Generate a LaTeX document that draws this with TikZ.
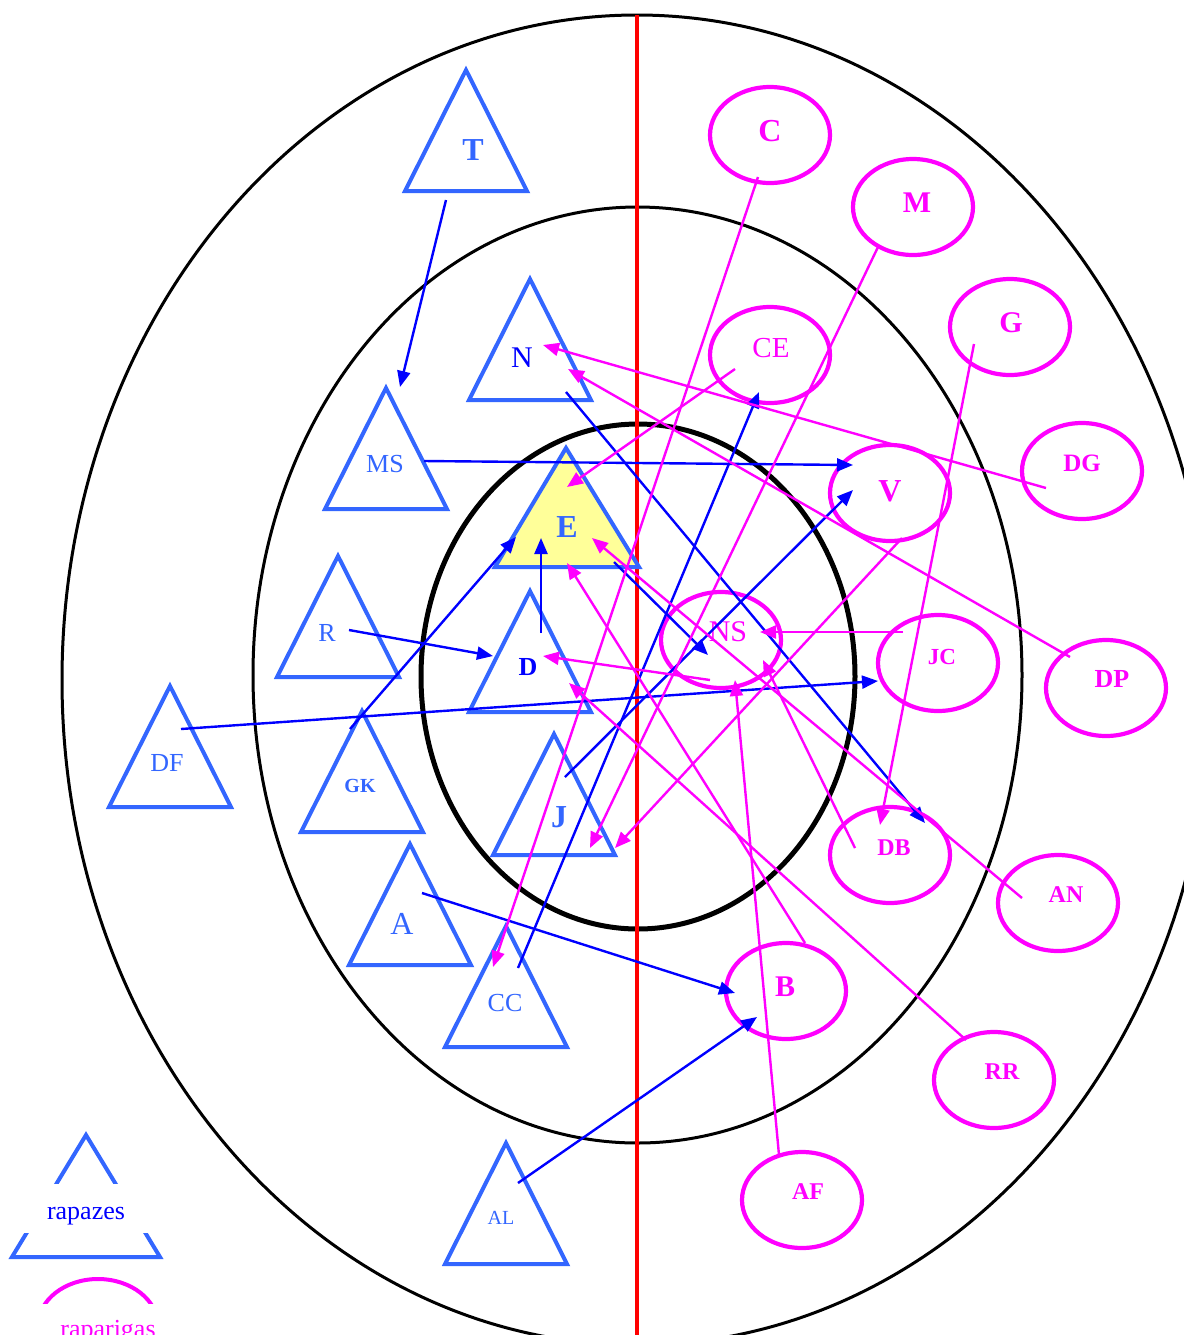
\documentclass[tikz,border=0pt]{standalone}
\usepackage{fontspec}
\setmainfont{Liberation Serif}
\usetikzlibrary{arrows.meta}
\definecolor{tri}{HTML}{3366FF}
\definecolor{bl}{HTML}{0000FF}
\definecolor{mg}{HTML}{FF00FF}
\definecolor{yel}{HTML}{FFFF99}
\definecolor{rd}{HTML}{FF0000}
\tikzset{
  trist/.style={draw=tri,line width=2pt,line join=miter},
  ring/.style={draw=black,line width=1.5pt},
  barrow/.style={draw=bl,line width=1.2pt,-{Triangle[length=8pt,width=6.5pt]}},
  marrow/.style={draw=mg,line width=1.2pt,-{Triangle[length=8pt,width=6.5pt]}},
  lab/.style={inner sep=0pt,font=\fontsize{#1}{#1}\selectfont},
  tl/.style={text=tri},
  ml/.style={text=mg},
}
\newcommand\mytri[2]{\draw[trist] (#1,#2) -- ++(-61,121) -- ++(122,0) -- cycle;}
\newcommand\myell[2]{\draw[draw=mg,line width=2.1pt] (#1,#2) ellipse [x radius=60,y radius=48];}
\begin{document}
\begin{tikzpicture}[x=0.5pt,y=-0.5pt]
\useasboundingbox (0,0) rectangle (1184,1335);
% rings
\draw[ring] (637,680) ellipse [x radius=575,y radius=665];
\draw[ring] (637.5,675) ellipse [x radius=384.5,y radius=468];
\draw[draw=black,line width=2.5pt] (638,676.5) ellipse [x radius=217,y radius=252.5];
\draw[draw=rd,line width=2pt] (637,15) -- (637,1340);
% triangles
\filldraw[trist,fill=yel] (566,448) -- (495,567) -- (639,567) -- cycle;
\mytri{466}{70}
\mytri{386}{388}
\mytri{530}{279}
\mytri{338}{556}
\mytri{530}{591}
\mytri{170}{686}
\mytri{362}{711}
\mytri{554}{734}
\mytri{410}{844}
\mytri{506}{926}
\mytri{506}{1143}
% girls
\myell{770}{135}
\myell{913}{207}
\myell{1010}{327}
\myell{770}{355}
\myell{1082}{471}
\myell{890}{493}
\myell{721}{640}
\myell{938}{663}
\myell{1106}{688}
\myell{890}{855}
\myell{1058}{903}
\myell{786}{991}
\myell{994}{1080}
\myell{802}{1200}
% labels
\node[lab=16,tl,font=\bfseries\fontsize{16}{16}\selectfont] (T) at (473,150) {T};
\node[lab=13,tl] (MS) at (385,464) {MS};
\node[lab=15,text=bl] (N) at (522,358) {N};
\node[lab=16,tl,font=\bfseries\fontsize{16}{16}\selectfont] (E) at (567,527) {E};
\node[lab=13,tl] (R) at (327,633) {R};
\node[lab=13,text=bl,font=\bfseries\fontsize{13}{13}\selectfont] (D) at (528,667) {D};
\node[lab=10,tl,font=\bfseries\fontsize{10}{10}\selectfont] (GK) at (360,786) {GK};
\node[lab=13,tl] (DF) at (167,763) {DF};
\node[lab=16,tl,font=\bfseries\fontsize{16}{16}\selectfont] (J) at (559,817) {J};
\node[lab=16,tl] (A) at (402,924) {A};
\node[lab=13,tl] (CC) at (505,1003) {CC};
\node[lab=10,tl] (AL) at (501,1218) {AL};
\node[lab=16,ml,font=\bfseries\fontsize{16}{16}\selectfont] (C) at (770,131) {C};
\node[lab=15,ml,font=\bfseries\fontsize{15}{15}\selectfont] (M) at (917,203) {M};
\node[lab=15,ml,font=\bfseries\fontsize{15}{15}\selectfont] (G) at (1011,323) {G};
\node[lab=14.5,ml] (CE) at (771,348) {CE};
\node[lab=12.5,ml,font=\bfseries\fontsize{12.5}{12.5}\selectfont] (DG) at (1082,463) {DG};
\node[lab=16,ml,font=\bfseries\fontsize{16}{16}\selectfont] (V) at (890,491) {V};
\node[lab=15,ml] (NS) at (728,632) {NS};
\node[lab=11.5,ml,font=\bfseries\fontsize{11.5}{11.5}\selectfont] (JC) at (942,657) {JC};
\node[lab=13,ml,font=\bfseries\fontsize{13}{13}\selectfont] (DP) at (1112,679) {DP};
\node[lab=12,ml,font=\bfseries\fontsize{12}{12}\selectfont] (DB) at (894,848) {DB};
\node[lab=12,ml,font=\bfseries\fontsize{12}{12}\selectfont] (AN) at (1066,895) {AN};
\node[lab=15,ml,font=\bfseries\fontsize{15}{15}\selectfont] (B) at (785,987) {B};
\node[lab=12,ml,font=\bfseries\fontsize{12}{12}\selectfont] (RR) at (1002,1072) {RR};
\node[lab=12,ml,font=\bfseries\fontsize{12}{12}\selectfont] (AF) at (808,1192) {AF};
% connector end points
\coordinate (Ts) at (446,200); \coordinate (MSe) at (400,387);
\coordinate (MSs) at (424,461); \coordinate (Ve1) at (853,465);
\coordinate (Ns) at (566,392); \coordinate (DBe1) at (925,823);
\coordinate (Rs) at (349,630); \coordinate (De1) at (493,656);
\coordinate (Ds) at (541,633); \coordinate (Ee1) at (541,538);
\coordinate (GKs) at (350,729); \coordinate (Ee2) at (516,537);
\coordinate (DFs) at (181,729); \coordinate (JCe) at (878,681);
\coordinate (Js) at (565,777); \coordinate (Ve2) at (853,490);
\coordinate (CCs) at (518,968); \coordinate (CEe) at (759,392);
\coordinate (Es) at (614,562); \coordinate (NSe1) at (708,655);
\coordinate (As) at (422,893); \coordinate (Be1) at (735,993);
\coordinate (ALs) at (518,1183); \coordinate (Be2) at (757,1017);
\coordinate (Cs) at (758,177); \coordinate (CCe) at (493,967);
\coordinate (Ms) at (878,247); \coordinate (Je1) at (590,848);
\coordinate (Gs) at (974,344); \coordinate (DBe2) at (880,825);
\coordinate (CEs) at (735,369); \coordinate (Ee3) at (567,487);
\coordinate (DGs) at (1046,488); \coordinate (Ne1) at (543,345);
\coordinate (DPs) at (1070,657); \coordinate (Ne2) at (568,369);
\coordinate (Vs) at (902,538); \coordinate (Je2) at (615,848);
\coordinate (JCs) at (903,632); \coordinate (NSe2) at (760,632);
\coordinate (NSs) at (710,680); \coordinate (De2) at (543,656);
\coordinate (DBs) at (855,848); \coordinate (NSe3) at (763,660);
\coordinate (ANs) at (1022,898); \coordinate (Ee4) at (592,538);
\coordinate (Bs) at (805,943); \coordinate (Ee5) at (567,563);
\coordinate (RRs) at (966,1040); \coordinate (De3) at (569,683);
\coordinate (AFs) at (779,1155); \coordinate (NSe4) at (735,680);
% blue connectors
\draw[barrow] (Ts) -- (MSe);
\draw[barrow] (MSs) -- (Ve1);
\draw[barrow] (Ns) -- (DBe1);
\draw[barrow] (Rs) -- (De1);
\draw[barrow] (Ds) -- (Ee1);
\draw[barrow] (GKs) -- (Ee2);
\draw[barrow] (DFs) -- (JCe);
\draw[barrow] (Js) -- (Ve2);
\draw[barrow] (CCs) -- (CEe);
\draw[barrow] (Es) -- (NSe1);
\draw[barrow] (As) -- (Be1);
\draw[barrow] (ALs) -- (Be2);
% magenta connectors
\draw[marrow] (Cs) -- (CCe);
\draw[marrow] (Ms) -- (Je1);
\draw[marrow] (Gs) -- (DBe2);
\draw[marrow] (CEs) -- (Ee3);
\draw[marrow] (DGs) -- (Ne1);
\draw[marrow] (DPs) -- (Ne2);
\draw[marrow] (Vs) -- (Je2);
\draw[marrow] (JCs) -- (NSe2);
\draw[marrow] (NSs) -- (De2);
\draw[marrow] (DBs) -- (NSe3);
\draw[marrow] (ANs) -- (Ee4);
\draw[marrow] (Bs) -- (Ee5);
\draw[marrow] (RRs) -- (De3);
\draw[marrow] (AFs) -- (NSe4);
% legend
\draw[trist] (86,1135) -- (12,1257) -- (160,1257) -- cycle;
\node[fill=white,minimum width=80pt,minimum height=24.5pt,inner sep=0pt] (legT) at (86,1208.5) {};
\node[lab=13,text=bl,anchor=base] (rapazes) at (86,1219) {rapazes};
\draw[draw=mg,line width=2pt] (98,1326) ellipse [x radius=60,y radius=47];
\node[fill=white,minimum width=70pt,minimum height=20pt,inner sep=0pt,anchor=north] (legE) at (98,1304) {};
\node[lab=13,text=mg,anchor=base] (raparigas) at (108,1337) {raparigas};
\end{tikzpicture}
\end{document}
